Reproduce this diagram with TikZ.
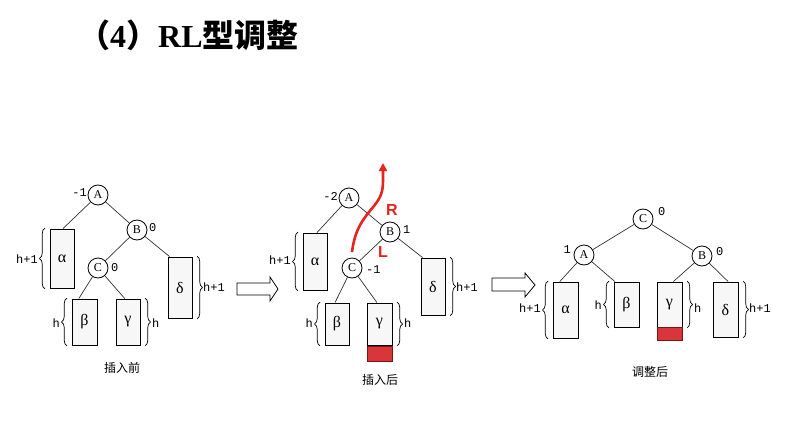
\documentclass[tikz,border=0pt]{standalone}
\usepackage{fontspec}
\setmainfont{Liberation Serif}
\newfontfamily\cjk{Noto Sans CJK SC}
\newfontfamily\lbl{Liberation Mono}
\newfontfamily\rl{Liberation Sans}
\usetikzlibrary{decorations.pathreplacing,arrows.meta,calc}
\definecolor{redline}{HTML}{E3241F}
\definecolor{redfill}{HTML}{D8363A}
\definecolor{rededge}{HTML}{7A1515}
\tikzset{
  circ/.style={circle,draw,line width=0.8pt,fill=white,minimum size=20pt,inner sep=0pt,font=\fontsize{12}{12}\selectfont},
  bx/.style={rectangle,draw,line width=0.9pt,fill=black!3,inner sep=0pt,font=\fontsize{16}{16}\selectfont},
  redbx/.style={rectangle,draw=rededge,line width=0.9pt,fill=redfill,inner sep=0pt},
  edge/.style={line width=0.7pt,draw=black!80},
  brc/.style={decorate,decoration={brace,amplitude=5.5pt},line width=0.7pt},
  small/.style={font=\lbl\fontsize{12}{12}\selectfont,inner sep=0pt},
  captext/.style={font=\cjk\fontsize{12}{12}\selectfont},
  blockarrow/.style={draw,line width=0.8pt,fill=white},
  redpath/.style={draw=redline,line width=2.6pt,-{Triangle[length=8pt,width=8pt]}},
  rltext/.style={font=\rl\bfseries\fontsize{16}{16}\selectfont,text=redline,inner sep=0pt}
}
\begin{document}
\begin{tikzpicture}[x=1pt,y=-1pt]
\useasboundingbox (0,0) rectangle (804,431);
% title
\node[anchor=west,inner sep=0pt] (title) at (78,35) {\cjk\bfseries\fontsize{32}{32}\selectfont （{\rmfamily\bfseries 4}）{\rmfamily\bfseries RL}型调整};

% ---------- tree 1 ----------
\node[circ] (A1) at (98,195) {A};
\node[circ] (B1) at (137,230) {B};
\node[circ] (C1) at (98,268) {C};
\node[small,anchor=east] (A1b) at (87,193) {-1};
\node[small,anchor=west] (B1b) at (149,228) {0};
\node[small,anchor=west] (C1b) at (111,268) {0};
\node[bx,minimum width=24pt,minimum height=59pt] (al1) at (62,258.5) {α};
\node[bx,minimum width=24pt,minimum height=61pt] (de1) at (180,287.5) {δ};
\node[bx,minimum width=25pt,minimum height=46pt] (be1) at (84.5,322) {β};
\node[bx,minimum width=24pt,minimum height=46pt] (ga1) at (128,322) {γ};
\draw[edge] (A1) -- ($(al1.north west)!0.54!(al1.north east)$);
\draw[edge] (A1) -- (B1);
\draw[edge] (B1) -- (C1);
\draw[edge] (B1) -- ($(de1.north west)!0.08!(de1.north east)$);
\draw[edge] (C1) -- ($(be1.north west)!0.28!(be1.north east)$);
\draw[edge] (C1) -- ($(ga1.north west)!0.37!(ga1.north east)$);
\draw[brc] (45,289) -- (45,228);
\draw[brc] (197,256) -- (197,319);
\draw[brc] (67,346) -- (67,298);
\draw[brc] (145,298) -- (145,346);
\node[small,anchor=east] (l1a) at (38,259) {h+1};
\node[small,anchor=west] (l1d) at (203,287) {h+1};
\node[small,anchor=east] (l1b) at (60,323) {h};
\node[small,anchor=west] (l1g) at (152,323) {h};
\node[captext] (cap1) at (122,368) {插入前};

% arrow 1
\draw[blockarrow] (237,283) -- (270,283) -- (270,277) -- (278,289) -- (270,301) -- (270,295) -- (237,295) -- cycle;

% ---------- tree 2 ----------
\node[circ] (A2) at (349,198) {A};
\node[circ] (B2) at (390,232) {B};
\node[circ] (C2) at (352,268) {C};
\node[small,anchor=east] (A2b) at (338,196) {-2};
\node[small,anchor=west] (B2b) at (403,230) {1};
\node[small,anchor=west] (C2b) at (366,270) {-1};
\node[bx,minimum width=24pt,minimum height=57pt] (al2) at (315,261.5) {α};
\node[bx,minimum width=24pt,minimum height=57pt] (de2) at (433,286.5) {δ};
\node[bx,minimum width=24pt,minimum height=42pt] (be2) at (337,324) {β};
\node[bx,minimum width=25pt,minimum height=42pt] (ga2) at (379.5,324) {γ};
\node[redbx,minimum width=25pt,minimum height=15pt] (rd2) at (379.5,353.5) {};
\draw[edge] (A2) -- ($(al2.north west)!0.58!(al2.north east)$);
\draw[edge] (A2) -- (B2);
\draw[edge] (B2) -- (C2);
\draw[edge] (B2) -- ($(de2.north west)!0.08!(de2.north east)$);
\draw[edge] (C2) -- ($(be2.north west)!0.42!(be2.north east)$);
\draw[edge] (C2) -- ($(ga2.north west)!0.4!(ga2.north east)$);
\draw[brc] (298,291) -- (298,232);
\draw[brc] (450,257) -- (450,316);
\draw[brc] (320,346) -- (320,302);
\draw[brc] (397,302) -- (397,346);
\node[small,anchor=east] (l2a) at (291,260) {h+1};
\node[small,anchor=west] (l2d) at (456,287) {h+1};
\node[small,anchor=east] (l2b) at (313,323) {h};
\node[small,anchor=west] (l2g) at (404,323) {h};
\node[captext] (cap2) at (380,380) {插入后};
% red rotation path
\coordinate (r0) at (352,252);
\coordinate (r1) at (383,163);
\draw[redpath] (r0) .. controls (355,228) and (364,218) .. (374,206) .. controls (381,197) and (383,192) .. (383,180) -- (r1);
\node[rltext] (Rl) at (392,210) {R};
\node[rltext] (Ll) at (383,252) {L};

% arrow 2
\draw[blockarrow] (492,278) -- (525,278) -- (525,273) -- (535,285) -- (525,297) -- (525,291) -- (492,291) -- cycle;

% ---------- tree 3 ----------
\node[circ] (C3) at (643,219) {C};
\node[circ] (A3) at (584,255) {A};
\node[circ] (B3) at (702,256) {B};
\node[small,anchor=west] (C3b) at (658,212) {0};
\node[small,anchor=east] (A3b) at (571,250) {1};
\node[small,anchor=west] (B3b) at (716,252) {0};
\node[bx,minimum width=25pt,minimum height=56pt] (al3) at (565.5,310) {α};
\node[bx,minimum width=25pt,minimum height=45pt] (be3) at (626.5,304.5) {β};
\node[bx,minimum width=25pt,minimum height=45pt] (ga3) at (669.5,304.5) {γ};
\node[redbx,minimum width=25pt,minimum height=13pt] (rd3) at (669.5,333.5) {};
\node[bx,minimum width=25pt,minimum height=55pt] (de3) at (725.5,309.5) {δ};
\draw[edge] (C3) -- (A3);
\draw[edge] (C3) -- (B3);
\draw[edge] (A3) -- ($(al3.north west)!0.28!(al3.north east)$);
\draw[edge] (A3) -- ($(be3.north west)!0.05!(be3.north east)$);
\draw[edge] (B3) -- ($(ga3.north west)!0.65!(ga3.north east)$);
\draw[edge] (B3) -- ($(de3.north west)!0.6!(de3.north east)$);
\draw[brc] (548,339) -- (548,281);
\draw[brc] (609,328) -- (609,281);
\draw[brc] (687,281) -- (687,328);
\draw[brc] (743,281) -- (743,338);
\node[small,anchor=east] (l3a) at (541,308) {h+1};
\node[small,anchor=east] (l3b) at (602,305) {h};
\node[small,anchor=west] (l3g) at (694,308) {h};
\node[small,anchor=west] (l3d) at (749,308) {h+1};
\node[captext] (cap3) at (650,372) {调整后};
\end{tikzpicture}
\end{document}
